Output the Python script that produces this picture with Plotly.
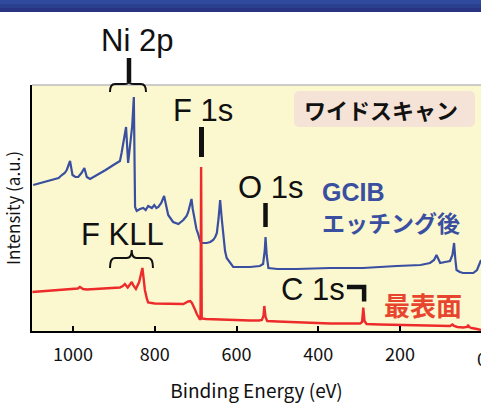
import plotly.graph_objects as go

# XPS wide scan: binding energy (eV) vs intensity (a.u.)
# Spectrum after GCIB etching
gcib_energy = [1097, 1080, 1060, 1048, 1035, 1027, 1020, 1015, 1007, 1001, 994, 987, 979, 972,
               966, 958, 945, 934, 920, 901, 885, 881, 876, 870, 865, 862, 858, 855, 851, 848,
               844, 836, 828, 822, 816, 812, 807, 801, 796, 791, 784, 777, 772, 767, 755, 742,
               730, 722, 718, 714, 710, 707, 703, 698, 693, 689, 685, 673, 664, 657, 652, 648,
               644, 640, 636, 632, 628, 624, 620, 616, 608, 590, 567, 543, 535, 531, 529, 526,
               522, 500, 453, 371, 291, 208, 150, 127, 117, 111, 106, 102, 90, 78, 72, 68, 65,
               62, 54, 46, 34, 21, 12, 9, 5, 2]
gcib_intensity = [146, 148, 150, 151, 153, 156, 158, 161, 170, 156, 154, 154, 158, 163,
                  154, 152, 155, 157, 161, 166, 170, 178, 190, 204, 168, 180, 194, 205, 234, 124,
                  120, 122, 123, 121, 125, 124, 123, 126, 123, 124, 128, 135, 124, 116, 109, 107,
                  111, 115, 119, 125, 132, 122, 111, 102, 96, 90, 88, 88, 89, 91, 94, 98,
                  112, 131, 112, 94, 80, 73, 71, 69, 64, 64, 64, 65, 67, 80, 94, 75,
                  63, 62, 62, 63, 63, 65, 66, 68, 71, 76, 72, 68, 69, 70, 76, 88, 72,
                  61, 59, 58, 58, 58, 61, 64, 68, 71]

# Spectrum of the outermost surface
surface_energy = [1099, 1060, 1015, 995, 988, 983, 975, 966, 934, 900, 885, 878, 873, 866, 860,
                  856, 853, 846, 838, 834, 830, 827, 824, 819, 816, 800, 771, 730, 718, 713, 709,
                  705, 701, 697, 693, 690, 688, 686.5, 685, 683, 675, 648, 600, 567, 545, 538,
                  534, 532, 529, 525, 500, 453, 400, 371, 330, 298, 293, 290, 287, 282, 250,
                  208, 150, 100, 78, 72, 68, 60, 46, 36, 34, 31, 25, 12, 2]
surface_intensity = [39, 40, 41.5, 42, 42.5, 44, 42, 41.5, 42, 43, 43.5, 45, 47, 43.5, 47,
                     49, 46, 42, 49, 55, 63, 52, 41, 32, 28.5, 27.5, 27, 27, 29.5, 30, 28,
                     25, 21, 17, 14, 12, 12, 164, 13, 12.5, 12, 11.5, 11, 10.5, 10.5, 11,
                     15, 25, 14, 10, 9.5, 8.5, 8, 7.5, 7.5, 7.5, 9, 23.5, 10, 7, 6.5,
                     6, 5.5, 5, 5, 6.5, 5, 4, 3.5, 4, 6, 4, 3, 2, 1]

x_ticks = [1000, 800, 600, 400, 200]

BLUE = "#3a4fa0"
RED = "#ee2b2b"
INK = "#111111"
LATIN = "Liberation Sans, Arial, sans-serif"
JP = "Noto Sans CJK JP, sans-serif"


def brace(x_left, x_right, x_cusp, y_end, y_line, y_top, r):
    """Horizontal curly brace with its cusp pointing up."""
    d = r if x_right > x_left else -r
    return (f"M {x_left},{y_end} Q {x_left},{y_line} {x_left + d},{y_line} "
            f"L {x_cusp - d},{y_line} Q {x_cusp},{y_line} {x_cusp},{y_top} "
            f"Q {x_cusp},{y_line} {x_cusp + d},{y_line} "
            f"L {x_right - d},{y_line} Q {x_right},{y_line} {x_right},{y_end}")


def rounded_rect(x0, y0, x1, y1, rx, ry):
    return (f"M {x0 + rx},{y0} L {x1 - rx},{y0} Q {x1},{y0} {x1},{y0 + ry} "
            f"L {x1},{y1 - ry} Q {x1},{y1} {x1 - rx},{y1} L {x0 + rx},{y1} "
            f"Q {x0},{y1} {x0},{y1 - ry} L {x0},{y0 + ry} Q {x0},{y0} {x0 + rx},{y0} Z")


fig = go.Figure()
fig.add_trace(go.Scatter(x=gcib_energy, y=gcib_intensity, mode="lines",
                         line=dict(color=BLUE, width=2.2), hoverinfo="skip"))
fig.add_trace(go.Scatter(x=surface_energy, y=surface_intensity, mode="lines",
                         line=dict(color=RED, width=2.4), hoverinfo="skip"))

shapes = []
# header band
for y0, y1, col in [(1.3293, 1.3460, "#2f4b9d"), (1.3130, 1.3293, "#2b3f8f"),
                    (1.2967, 1.3130, "#283482")]:
    shapes.append(dict(type="rect", xref="paper", yref="paper", x0=-0.08, x1=1.01,
                       y0=y0, y1=y1, fillcolor=col, line=dict(width=0), layer="below"))
# top frame line
shapes.append(dict(type="line", xref="paper", yref="paper", x0=0, x1=1, y0=1, y1=1,
                   line=dict(color="#bdbdbd", width=1.5)))
# label box
shapes.append(dict(type="path", xref="paper", yref="paper",
                   path=rounded_rect(0.5835, 0.8293, 0.9866, 0.9756, 0.013, 0.024),
                   fillcolor="#f4e3d6", line=dict(width=0)))
# Ni 2p marker
shapes.append(dict(type="line", xref="paper", yref="paper", x0=0.2160, x1=0.2160,
                   y0=1.0122, y1=1.1098, line=dict(color=INK, width=4.5)))
shapes.append(dict(type="path", xref="paper", yref="paper",
                   path=brace(0.1737, 0.2539, 0.2160, 0.9715, 1.0041, 1.0163, 0.011),
                   line=dict(color=INK, width=2)))
# F 1s marker
shapes.append(dict(type="line", xref="x", yref="y", x0=685.6, x1=685.6, y0=174, y1=204,
                   line=dict(color=INK, width=5)))
# O 1s marker
shapes.append(dict(type="line", xref="x", yref="y", x0=529.1, x1=529.1, y0=104, y1=128,
                   line=dict(color=INK, width=4.5)))
# F KLL brace
shapes.append(dict(type="path", xref="x", yref="y",
                   path=brace(909.3, 804.2, 856.2, 63, 73, 81, 12),
                   line=dict(color=INK, width=2)))
# C 1s marker
shapes.append(dict(type="path", xref="x", yref="y",
                   path="M 330,44 L 288,44 L 288,29.5",
                   line=dict(color=INK, width=4.5)))

annotations = [
    dict(text="Ni 2p", xref="paper", yref="paper", x=0.2339, y=1.1789,
         font=dict(family=LATIN, size=31, color=INK)),
    dict(text="F 1s", xref="x", yref="y", x=682, y=221,
         font=dict(family=LATIN, size=31, color=INK)),
    dict(text="O 1s", xref="x", yref="y", x=518, y=143.5,
         font=dict(family=LATIN, size=31, color=INK)),
    dict(text="F KLL", xref="x", yref="y", x=879, y=97,
         font=dict(family=LATIN, size=31, color=INK)),
    dict(text="C 1s", xref="x", yref="y", x=412, y=42,
         font=dict(family=LATIN, size=31, color=INK)),
    dict(text="<b>ワイドスキャン</b>", xref="paper", yref="paper", x=0.7773, y=0.9024,
         font=dict(family=JP, size=22, color=INK)),
    dict(text="<b>GCIB</b>", xref="x", yref="y", x=396, y=139.5, xanchor="left",
         font=dict(family=LATIN, size=25, color=BLUE)),
    dict(text="<b>エッチング後</b>", xref="x", yref="y", x=396, y=109, xanchor="left",
         font=dict(family=JP, size=23, color=BLUE)),
    dict(text="<b>最表面</b>", xref="x", yref="y", x=244, y=27, xanchor="left",
         font=dict(family=JP, size=26, color="#e8452f")),
    # the 0 eV tick label sits at the right edge of the frame
    dict(text="0", xref="paper", yref="paper", x=1.0, y=0, xshift=1, yshift=-27,
         font=dict(family=JP, size=18, color=INK)),
]
for a in annotations:
    a.setdefault("showarrow", False)
    a.setdefault("xanchor", "center")
    a.setdefault("yanchor", "middle")

fig.update_layout(
    width=481, height=403,
    margin=dict(l=32, r=0, t=85, b=72),
    paper_bgcolor="white",
    plot_bgcolor="#fbf8d0",
    showlegend=False,
    shapes=shapes,
    annotations=annotations,
    xaxis=dict(range=[1100, 2.2], tickvals=x_ticks, ticktext=[str(v) for v in x_ticks],
               ticks="inside", ticklen=5, tickwidth=1.5, tickcolor="black",
               showline=True, linecolor="black", linewidth=1.5, showgrid=False,
               zeroline=False, tickfont=dict(family=JP, size=18, color=INK),
               ticklabelstandoff=7,
               title=dict(text="Binding Energy (eV)", standoff=20,
                          font=dict(family=JP, size=19, color=INK))),
    yaxis=dict(range=[0, 246], showticklabels=False, ticks="", showgrid=False,
               zeroline=False, showline=True, linecolor="black", linewidth=1.5,
               title=dict(text="Intensity (a.u.)", standoff=6,
                          font=dict(family=JP, size=17, color=INK))),
)

fig.write_html("out.html")
